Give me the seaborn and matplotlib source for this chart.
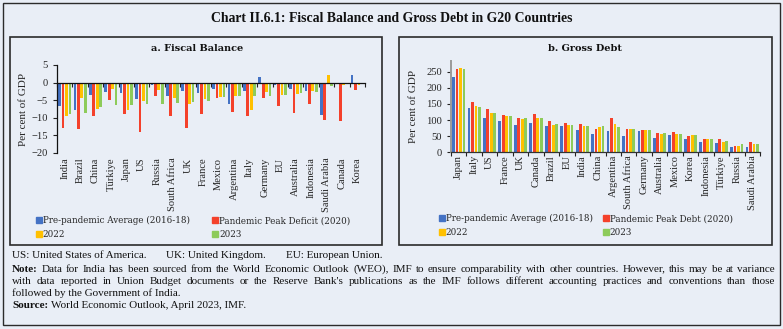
import numpy as np
import pandas as pd
import seaborn as sns
import matplotlib
matplotlib.use("Agg")
import matplotlib.pyplot as plt
from matplotlib.patches import Rectangle
from matplotlib.lines import Line2D

# ---------------- data ----------------
fb_countries = ["India", "Brazil", "China", "Türkiye", "Japan", "US", "Russia", "South Africa",
                "UK", "France", "Mexico", "Argentina", "Italy", "Germany", "EU", "Australia",
                "Indonesia", "Saudi Arabia", "Canada", "Korea"]
fb_pre = [-6.6, -7.7, -3.6, -2.8, -3.0, -4.8, -0.7, -3.9, -2.5, -3.0, -1.9, -6.1, -2.3, 1.6,
          -0.7, -1.7, -2.3, -9.3, -0.3, 2.1]
fb_peak = [-12.8, -13.3, -9.6, -4.9, -9.0, -14.0, -3.9, -9.6, -12.9, -8.9, -4.4, -8.4, -9.6, -4.4,
           -6.7, -8.7, -6.1, -10.7, -10.9, -2.1]
fb_2022 = [-9.6, -4.5, -7.6, -1.7, -7.7, -5.3, -2.1, -4.5, -6.1, -4.7, -4.0, -3.7, -7.9, -2.6,
           -3.5, -3.3, -2.3, 2.2, -0.7, -0.7]
fb_2023 = [-8.9, -8.7, -6.8, -6.3, -6.3, -6.1, -6.1, -5.9, -5.6, -5.3, -4.2, -3.7, -3.7, -3.7,
           -3.5, -3.0, -2.6, -1.1, -0.4, -0.2]

gd_countries = ["Japan", "Italy", "US", "France", "UK", "Canada", "Brazil", "EU", "India", "China",
                "Argentina", "South Africa", "Germany", "Australia", "Mexico", "Korea", "Indonesia",
                "Türkiye", "Russia", "Saudi Arabia"]
gd_pre = [234, 136, 107, 98, 86, 91, 83, 83, 69, 57, 67, 51, 66, 43, 54, 42, 32, 30, 15, 17]
gd_peak = [259, 155, 134, 115, 106, 118, 97, 91, 88, 72, 105, 71, 70, 60, 62, 51, 42, 41, 21, 33]
gd_2022 = [261, 145, 122, 111, 102, 107, 86, 84, 83, 77, 88, 72, 68, 57, 58, 54, 40, 32, 20, 26]
gd_2023 = [258, 141, 122, 112, 106, 106, 88, 84, 83, 83, 78, 73, 68, 60, 58, 54, 40, 36, 26, 25]

fb_series = ["Pre-pandemic Average (2016-18)", "Pandemic Peak Deficit (2020)", "2022", "2023"]
gd_series = ["Pre-pandemic Average (2016-18)", "Pandemic Peak Debt (2020)", "2022", "2023"]
colors = ["#4472C4", "#F4412B", "#FFC000", "#8DCB5A"]

BG = "#E9EEF6"
W, H = 783, 329

def long_df(countries, series, arrays):
    rows = []
    for s, arr in zip(series, arrays):
        for c, v in zip(countries, arr):
            rows.append({"country": c, "series": s, "value": v})
    return pd.DataFrame(rows)

fb_df = long_df(fb_countries, fb_series, [fb_pre, fb_peak, fb_2022, fb_2023])
gd_df = long_df(gd_countries, gd_series, [gd_pre, gd_peak, gd_2022, gd_2023])

sns.set_theme(style="ticks")
plt.rcParams["font.family"] = ["DejaVu Serif"]

fig = plt.figure(figsize=(W / 100, H / 100), dpi=100, facecolor=BG)

def fx(px):
    return px / W

def fy(py):
    return 1 - py / H

axA = fig.add_axes([fx(57), fy(153), fx(365) - fx(57), fy(65) - fy(153)])
axB = fig.add_axes([fx(451), fy(152.3), fx(760) - fx(451), fy(61) - fy(152.3)])

for ax, df, series, countries in [(axA, fb_df, fb_series, fb_countries),
                                  (axB, gd_df, gd_series, gd_countries)]:
    ax.set_facecolor(BG)
    sns.barplot(data=df, x="country", y="value", hue="series", hue_order=series,
                order=countries, palette=colors, width=0.9, gap=0.2,
                saturation=1, legend=False, ax=ax, errorbar=None, linewidth=0)
    ax.set_xlabel("")
    ax.set_ylabel("Per cent of GDP", fontdict=dict(family="Liberation Serif", size=8))
    ax.spines["top"].set_visible(False)
    ax.spines["right"].set_visible(False)

# panel a: zero line carries the axis
axA.spines["bottom"].set_position(("data", 0))
axA.spines["bottom"].set_color("#111111")
axA.spines["bottom"].set_linewidth(0.9)
axA.spines["left"].set_color("#111111")
axA.spines["left"].set_linewidth(0.9)
axA.set_ylim(-20, 5)
axA.set_yticks([-20, -15, -10, -5, 0, 5])
axA.yaxis.set_label_coords(-0.094, 0.5)

# panel b
axB.set_ylim(0, 283)
axB.set_yticks([0, 50, 100, 150, 200, 250])
axB.spines["bottom"].set_color("#333333")
axB.spines["bottom"].set_linewidth(0.9)
axB.spines["left"].set_color("#9a9a9a")
axB.spines["left"].set_linewidth(1.4)
axB.yaxis.set_label_coords(-0.107, 0.5)

for ax, countries, pad in [(axA, fb_countries, 54), (axB, gd_countries, 2)]:
    n = len(countries)
    ax.set_xlim(-0.5, n - 0.5)
    ax.set_xticks(np.arange(n))
    ax.set_xticks(np.arange(n + 1) - 0.5, minor=True)
    ax.set_xticklabels(countries, rotation=90, va="top", ha="center",
                       fontfamily="Liberation Serif", fontsize=7.6)
    ax.tick_params(axis="x", which="major", length=0, pad=pad)
    ax.tick_params(axis="x", which="minor", length=3, width=0.8, color="#222222", direction="out")
    ax.tick_params(axis="y", length=3, width=0.8, color="#222222")
    for lab in ax.get_yticklabels():
        lab.set_fontfamily("Liberation Serif")
        lab.set_fontsize(7.6)

# panel boxes and outer frame
for (x0, y0, x1, y1, lw) in [(10, 37, 382, 245, 1.2), (399, 37, 772, 245, 1.2), (3, 3, 780, 325, 1.0)]:
    fig.add_artist(Rectangle((fx(x0), fy(y1)), fx(x1) - fx(x0), fy(y0) - fy(y1),
                             transform=fig.transFigure, fill=False, ec="#2b2b2b", lw=lw))

# titles
fig.text(fx(391.5), fy(19), "Chart II.6.1: Fiscal Balance and Gross Debt in G20 Countries",
         ha="center", va="center", fontfamily="Liberation Serif", fontweight="bold", fontsize=9.9,
         color="#111111")
fig.text(fx(197), fy(48.5), "a. Fiscal Balance", ha="center", va="center",
         fontfamily="DejaVu Serif", fontweight="bold", fontsize=7, color="#111111")
fig.text(fx(585), fy(48.5), "b. Gross Debt", ha="center", va="center",
         fontfamily="DejaVu Serif", fontweight="bold", fontsize=7, color="#111111")

# legends
def make_legend(series, anchor_x, anchor_y, colspace):
    handles = [Line2D([], [], marker="s", ls="", color=c, markersize=5) for c in colors]
    order = [0, 2, 1, 3]
    fig.legend([handles[i] for i in order], [series[i] for i in order], ncol=2,
               loc="upper left", bbox_to_anchor=(fx(anchor_x), fy(anchor_y)),
               bbox_transform=fig.transFigure, frameon=False, handlelength=0.6,
               handletextpad=0.15, columnspacing=colspace, labelspacing=0.6,
               borderaxespad=0, borderpad=0,
               prop=dict(family="DejaVu Serif", size=6.3))

make_legend(fb_series, 36, 216, 2.65)
make_legend(gd_series, 439, 214, 1.2)

# footnotes
FS = 8.0
FN = dict(fontfamily="Liberation Serif", fontsize=FS, color="#111111", va="center", ha="left")
fig.canvas.draw()
renderer = fig.canvas.get_renderer()

def width_px(s, bold=False):
    t = fig.text(0, 0, s, fontweight="bold" if bold else "normal", **FN)
    w = t.get_window_extent(renderer=renderer).width
    t.remove()
    return w

def put_line(y, items, x_start=12, gap=20):
    x = x_start
    for s in items:
        fig.text(fx(x), fy(y), s, **FN)
        x += width_px(s) + gap

def justified(y, words, x0=12, x1=775, bold_first=False):
    widths = [width_px(w, bold=(bold_first and i == 0)) for i, w in enumerate(words)]
    space = (x1 - x0 - sum(widths)) / (len(words) - 1)
    x = x0
    for i, (w, wd) in enumerate(zip(words, widths)):
        fig.text(fx(x), fy(y), w, fontweight="bold" if (bold_first and i == 0) else "normal", **FN)
        x += wd + space

put_line(256, ["US: United States of America.", "UK: United Kingdom.", "EU: European Union."])
note1 = ("Note: Data for India has been sourced from the World Economic Outlook (WEO), IMF to ensure "
         "comparability with other countries. However, this may be at variance")
note2 = ("with data reported in Union Budget documents or the Reserve Bank's publications as the IMF "
         "follows different accounting practices and conventions than those")
justified(269, note1.split(" "), bold_first=True)
justified(281, note2.split(" "))
fig.text(fx(12), fy(293), "followed by the Government of India.", **FN)
fig.text(fx(12), fy(306), "Source:", fontweight="bold", **FN)
fig.text(fx(12) + width_px("Source:", bold=True) / W + fx(2.5), fy(306),
         "World Economic Outlook, April 2023, IMF.", **FN)

fig.savefig("out.png", dpi=100, facecolor=BG)
